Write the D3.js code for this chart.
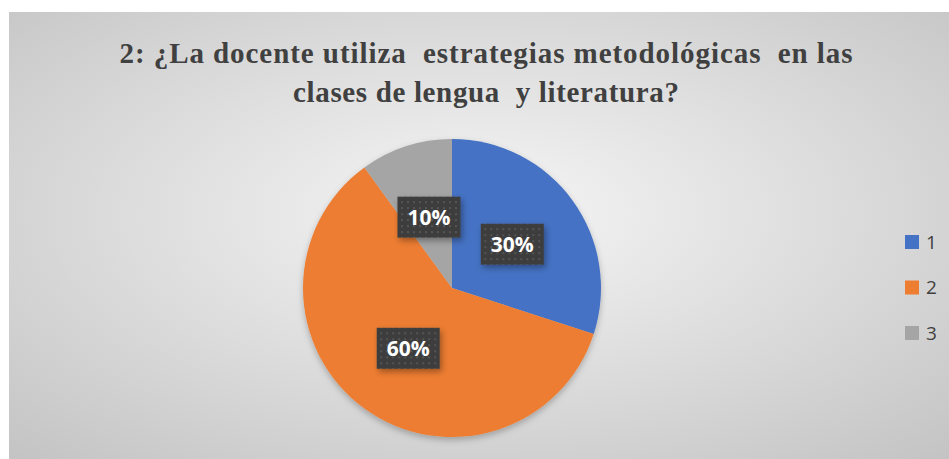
<!DOCTYPE html>
<html><head><meta charset="utf-8">
<script src="https://cdn.jsdelivr.net/npm/d3@7"></script>
<style>html,body{margin:0;padding:0;background:#fff;}svg{display:block;}</style>
</head><body>
<svg id="c" width="949" height="459"></svg>
<script>
const categories = ["1", "2", "3"];
const values = [30, 60, 10];
const labels = ["30%", "60%", "10%"];
const colors = ["#4472C4", "#ED7D31", "#A5A5A5"];
const titleLines = ["2: ¿La docente utiliza  estrategias metodológicas  en las", "clases de lengua  y literatura?"];
const titleWidths = [733, 386];

const svg = d3.select("#c");
const defs = svg.append("defs");
const rg = defs.append("radialGradient").attr("id","bg").attr("cx","50%").attr("cy","45%").attr("r","75%");
rg.append("stop").attr("offset","0%").attr("stop-color","#f6f6f6");
rg.append("stop").attr("offset","100%").attr("stop-color","#c3c3c3");
const pat = defs.append("pattern").attr("id","dots").attr("width",6).attr("height",6).attr("patternUnits","userSpaceOnUse");
pat.append("rect").attr("width",6).attr("height",6).attr("fill","#3d3d3d");
pat.append("rect").attr("x",2).attr("y",2).attr("width",2).attr("height",2).attr("fill","#555555");
const sh = defs.append("filter").attr("id","sh").attr("x","-20%").attr("y","-20%").attr("width","150%").attr("height","150%");
sh.append("feDropShadow").attr("dx",2).attr("dy",3).attr("stdDeviation",3).attr("flood-color","#000").attr("flood-opacity",0.35);
const psh = defs.append("filter").attr("id","psh").attr("x","-20%").attr("y","-20%").attr("width","140%").attr("height","140%");
psh.append("feDropShadow").attr("dx",0).attr("dy",3).attr("stdDeviation",3).attr("flood-color","#000").attr("flood-opacity",0.25);

svg.append("rect").attr("x",9).attr("y",12).attr("width",940).attr("height",447).attr("fill","url(#bg)");

svg.append("g").selectAll("text").data(titleLines).join("text")
  .attr("x",486).attr("y",(d,i)=>63+i*39)
  .attr("text-anchor","middle")
  .attr("font-family","'Liberation Serif', 'Times New Roman', serif")
  .attr("font-weight","bold").attr("font-size",29).attr("fill","#404040")
  .attr("textLength",(d,i)=>titleWidths[i]).attr("lengthAdjust","spacing")
  .style("white-space","pre")
  .text(d=>d);

const cx = 452, cy = 288, r = 149;
const pie = d3.pie().sort(null).value(d=>d)(values);
const arc = d3.arc().innerRadius(0).outerRadius(r);
const g = svg.append("g").attr("transform",`translate(${cx},${cy})`);
g.append("g").attr("filter","url(#psh)").selectAll("path").data(pie).join("path")
  .attr("d",arc).attr("fill",(d,i)=>colors[i]);

const larc = d3.arc().innerRadius(r*0.5).outerRadius(r*0.5);
const lg = g.append("g").selectAll("g").data(pie).join("g")
  .attr("transform",d=>{const c=larc.centroid(d);return `translate(${c[0]},${c[1]})`;});
lg.append("rect").attr("x",-31.5).attr("y",-20.5).attr("width",63).attr("height",41)
  .attr("fill","url(#dots)").attr("filter","url(#sh)");
lg.append("text").attr("text-anchor","middle").attr("dy","0.36em")
  .attr("font-family","'Open Sans', sans-serif").attr("font-weight","bold")
  .attr("font-size",21).attr("fill","#fff").text((d,i)=>labels[i]);

const leg = svg.append("g").selectAll("g").data(categories).join("g")
  .attr("transform",(d,i)=>`translate(905,${242+i*45.5})`);
leg.append("rect").attr("x",0).attr("y",-7).attr("width",14).attr("height",14).attr("fill",(d,i)=>colors[i]);
leg.append("text").attr("x",21).attr("dy","0.36em")
  .attr("font-family","'Open Sans', sans-serif").attr("font-size",19).attr("fill","#404040").text(d=>d);
</script>
</body></html>
